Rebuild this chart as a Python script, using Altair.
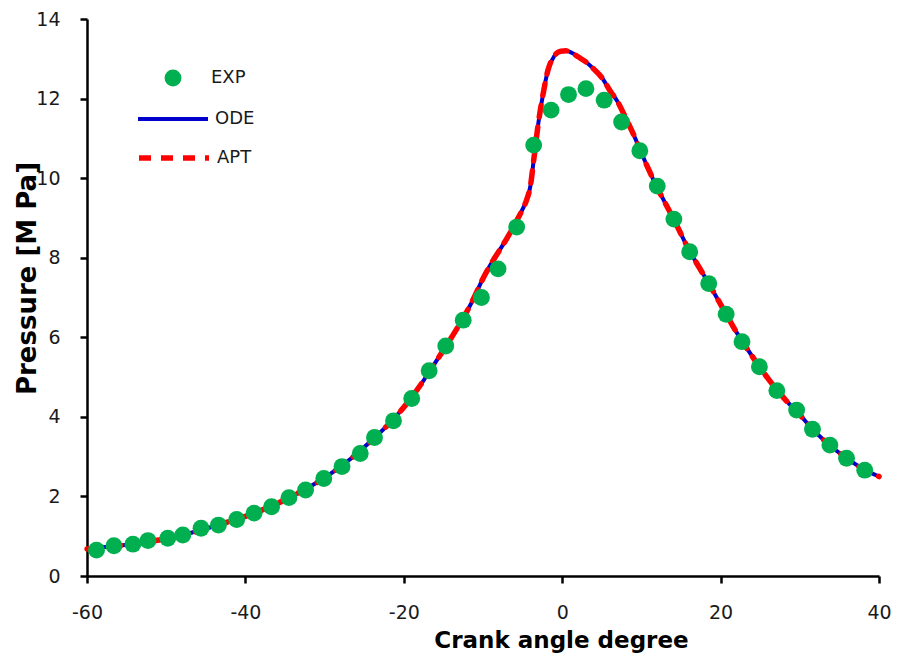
import altair as alt
import pandas as pd

# ---- data ----
exp_angle = [-58.8, -56.6, -54.2, -52.3, -49.8, -47.9, -45.6, -43.4, -41.1, -38.9,
             -36.7, -34.5, -32.4, -30.1, -27.8, -25.5, -23.7, -21.3, -19.0, -16.8,
             -14.7, -12.5, -10.2, -8.1, -5.75, -3.6, -1.4, 0.8, 3.0, 5.3,
             7.5, 9.8, 12.0, 14.1, 16.1, 18.5, 20.7, 22.7, 24.9, 27.1,
             29.6, 31.6, 33.8, 35.9, 38.2]
exp_pressure = [0.65, 0.76, 0.80, 0.89, 0.95, 1.03, 1.20, 1.28, 1.42, 1.58,
                1.74, 1.97, 2.16, 2.45, 2.75, 3.08, 3.48, 3.90, 4.46, 5.16,
                5.78, 6.43, 7.00, 7.72, 8.77, 10.83, 11.71, 12.10, 12.25, 11.96,
                11.41, 10.69, 9.80, 8.97, 8.15, 7.35, 6.58, 5.89, 5.26, 4.66,
                4.17, 3.69, 3.29, 2.96, 2.66]

curve_angle = [-60, -58, -56, -54, -52, -50, -48, -46, -44, -42,
               -40, -38, -36, -34, -32, -30, -28, -26, -24, -22,
               -20, -18, -16, -14, -12, -11, -10, -9, -8, -7,
               -6, -5, -4.5, -4.0, -3.6, -3.0, -2.4, -1.8, -1.0, -0.2,
               0.5, 1.2, 2, 3, 4, 5, 6, 7, 8, 9,
               10, 11, 12, 14, 16, 18, 20, 22, 24, 26,
               28, 30, 32, 34, 36, 38, 40]
ode_pressure = [0.68, 0.72, 0.76, 0.81, 0.87, 0.94, 1.03, 1.13, 1.25, 1.37,
                1.50, 1.65, 1.82, 2.02, 2.23, 2.47, 2.75, 3.06, 3.42, 3.80,
                4.24, 4.77, 5.37, 5.99, 6.66, 7.05, 7.48, 7.84, 8.16, 8.48,
                8.84, 9.22, 9.45, 9.82, 10.45, 11.40, 12.13, 12.71, 13.07, 13.19,
                13.20, 13.15, 13.05, 12.92, 12.74, 12.53, 12.21, 11.92, 11.52, 11.10,
                10.63, 10.18, 9.76, 9.00, 8.20, 7.52, 6.83, 6.13, 5.52, 4.96,
                4.47, 4.05, 3.61, 3.25, 2.95, 2.69, 2.50]
apt_pressure = [0.68, 0.72, 0.76, 0.81, 0.87, 0.94, 1.03, 1.13, 1.25, 1.37,
                1.50, 1.65, 1.82, 2.02, 2.23, 2.47, 2.75, 3.06, 3.42, 3.80,
                4.24, 4.77, 5.37, 5.99, 6.66, 7.05, 7.48, 7.84, 8.16, 8.48,
                8.84, 9.22, 9.45, 9.82, 10.45, 11.40, 12.13, 12.71, 13.07, 13.19,
                13.20, 13.15, 13.05, 12.92, 12.74, 12.53, 12.21, 11.92, 11.52, 11.10,
                10.63, 10.18, 9.76, 9.00, 8.20, 7.52, 6.83, 6.13, 5.52, 4.96,
                4.47, 4.05, 3.61, 3.25, 2.95, 2.69, 2.50]

x_ticks = [-60, -40, -20, 0, 20, 40]
y_ticks = [0, 2, 4, 6, 8, 10, 12, 14]

exp_df = pd.DataFrame({"angle": exp_angle, "pressure": exp_pressure, "series": "EXP"})
ode_df = pd.DataFrame({"angle": curve_angle, "pressure": ode_pressure, "series": "ODE"})
apt_df = pd.DataFrame({"angle": curve_angle, "pressure": apt_pressure, "series": "APT"})

FONT = "DejaVu Sans"

x_enc = alt.X("angle:Q",
              scale=alt.Scale(domain=[-60, 40], nice=False, zero=False),
              axis=alt.Axis(values=x_ticks, title="Crank angle degree", labelFlush=False,
                            labelOverlap=False, labelPadding=20,
                            labelExpr="'' + datum.value",
                            titleFontSize=23,
                            titleX=474, titleY=71, titleAlign="center",
                            titleBaseline="alphabetic"))
y_enc = alt.Y("pressure:Q",
              scale=alt.Scale(domain=[0, 14], nice=False),
              axis=alt.Axis(values=y_ticks, title="Pressure [M Pa]", labelOverlap=False,
                            labelPadding=20, labelExpr="'' + datum.value",
                            titleFontSize=26,
                            titleX=-52, titleY=259, titleAngle=-90, titleAlign="center",
                            titleBaseline="alphabetic"))

ode = alt.Chart(ode_df).mark_line(strokeWidth=4, interpolate="monotone").encode(
    x=x_enc, y=y_enc,
    stroke=alt.Stroke("series:N",
                      scale=alt.Scale(domain=["ODE"], range=["#0000CC"]),
                      legend=alt.Legend(title=None, orient="none", legendX=49, legendY=63,
                                        symbolType="stroke", symbolSize=4900,
                                        symbolStrokeWidth=4, labelOffset=5)),
)

apt = alt.Chart(apt_df).mark_line(strokeWidth=5.5, color="#FF0000", strokeCap="round",
                                  interpolate="monotone").encode(
    x=x_enc, y=y_enc,
    strokeDash=alt.StrokeDash("series:N",
                              scale=alt.Scale(domain=["APT"], range=[[12, 10]]),
                              legend=alt.Legend(title=None, orient="none", legendX=49, legendY=101,
                                                symbolType="stroke", symbolSize=4900,
                                                symbolStrokeWidth=5.5, symbolStrokeColor="#FF0000",
                                                labelOffset=5)),
)

pts = alt.Chart(exp_df).mark_circle(size=285, opacity=1).encode(
    x=x_enc, y=y_enc,
    fill=alt.Fill("series:N",
                  scale=alt.Scale(domain=["EXP"], range=["#00B050"]),
                  legend=alt.Legend(title=None, orient="none", legendX=77, legendY=50,
                                    symbolType="circle", symbolSize=285, symbolOpacity=1,
                                    symbolStrokeWidth=0, labelOffset=29)),
)

chart = alt.layer(ode, apt, pts).properties(
    width=792, height=557,
    autosize=alt.AutoSizeParams(type="none"),
    padding={"left": 87, "top": 19, "right": 19, "bottom": 84},
    background="white",
).configure_view(stroke=None).configure_axis(
    grid=False, domainColor="black", domainWidth=2.5,
    tickColor="black", tickWidth=2.5, tickSize=7,
    labelFont=FONT, labelFontSize=19, labelColor="#1a1a1a",
    titleFont=FONT, titleFontWeight="bold", titleColor="black",
).configure_legend(
    labelFont=FONT, labelFontSize=18, labelColor="#1a1a1a", padding=0,
)

chart.save("out.html", embed_options={"renderer": "svg", "actions": False})
